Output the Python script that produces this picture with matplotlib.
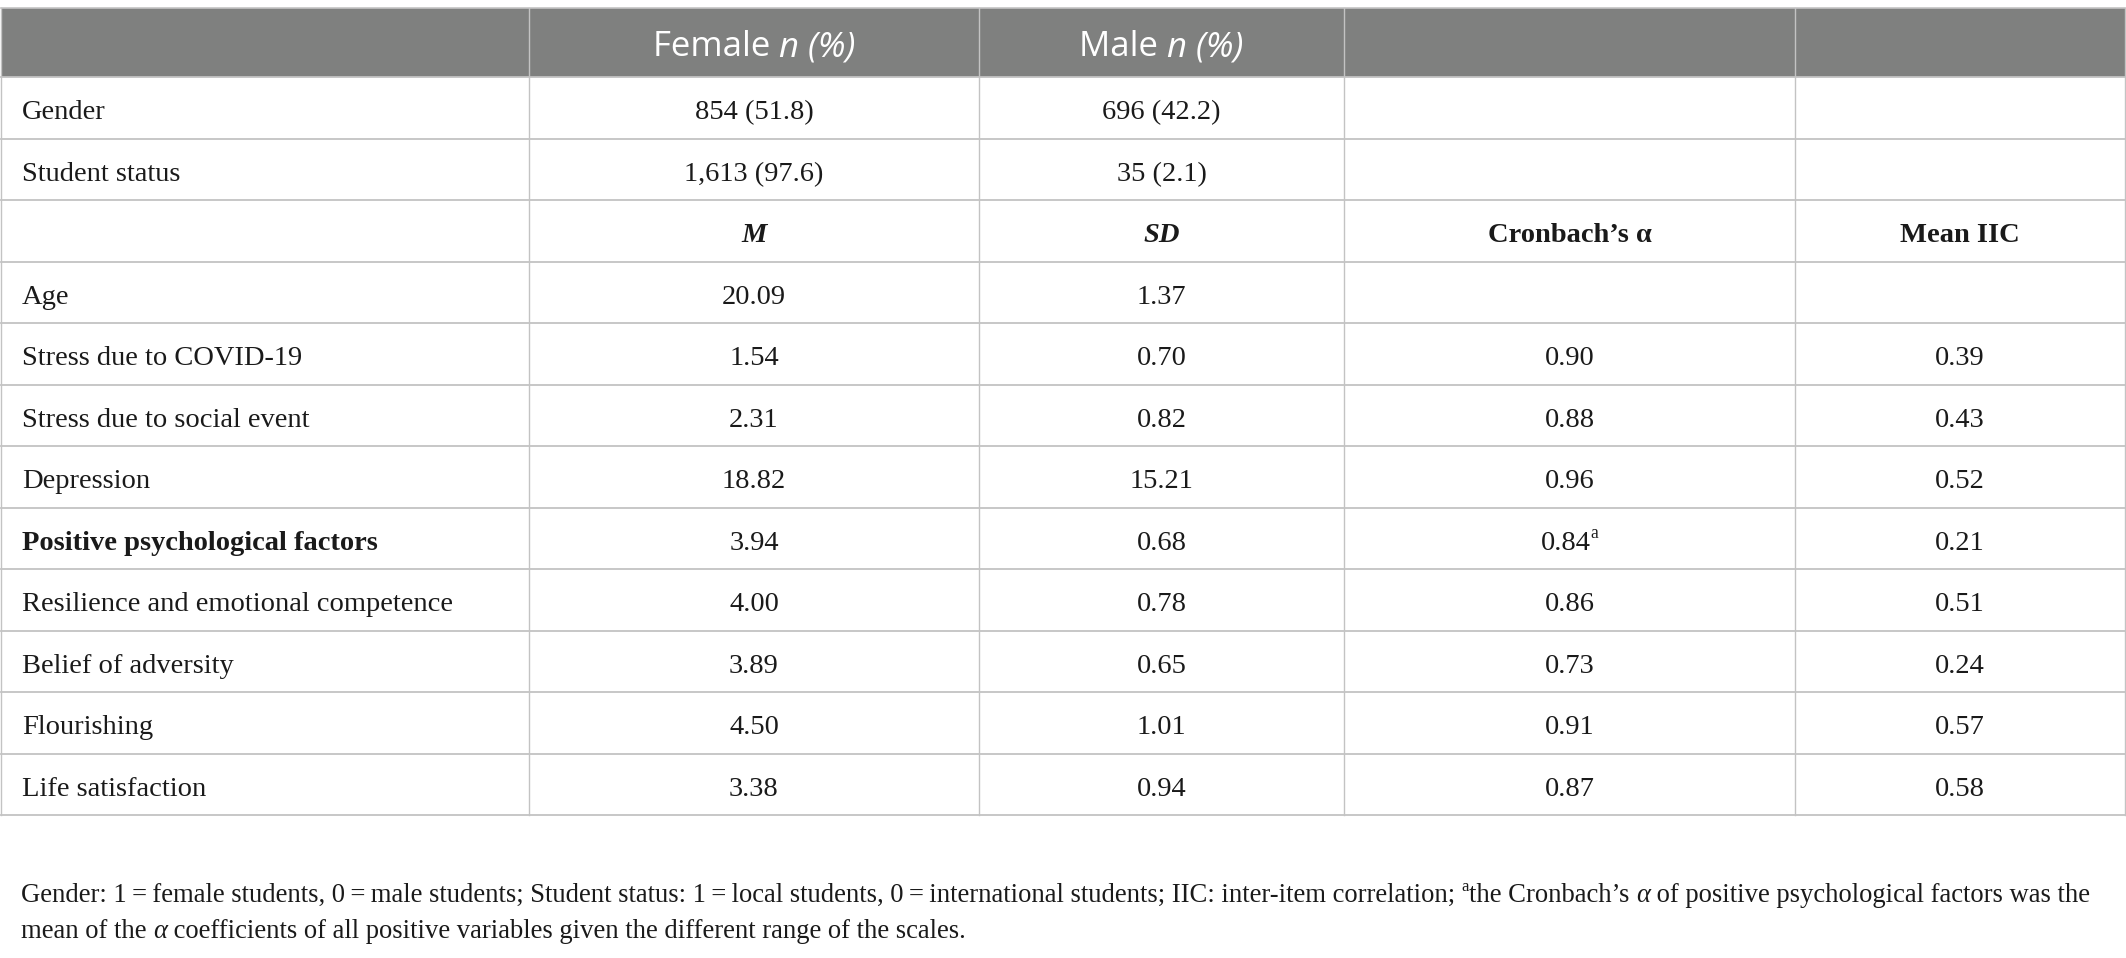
import matplotlib
matplotlib.use("Agg")
import matplotlib.pyplot as plt

# ---- table content -------------------------------------------------------
header_cols = ["Female", "Male"]
count_labels = ["Gender", "Student status"]
female_n = [854, 1613]
female_pct = [51.8, 97.6]
male_n = [696, 35]
male_pct = [42.2, 2.1]

stat_labels = [
    "Age",
    "Stress due to COVID-19",
    "Stress due to social event",
    "Depression",
    "Positive psychological factors",
    "Resilience and emotional competence",
    "Belief of adversity",
    "Flourishing",
    "Life satisfaction",
]
stat_bold = [False, False, False, False, True, False, False, False, False]
means = [20.09, 1.54, 2.31, 18.82, 3.94, 4.00, 3.89, 4.50, 3.38]
sds = [1.37, 0.70, 0.82, 15.21, 0.68, 0.78, 0.65, 1.01, 0.94]
alphas = [None, 0.90, 0.88, 0.96, 0.84, 0.86, 0.73, 0.91, 0.87]
alpha_sup = [None, None, None, None, "a", None, None, None, None]
iics = [None, 0.39, 0.43, 0.52, 0.21, 0.51, 0.24, 0.57, 0.58]

# ---- layout (pixels) -------------------------------------------------------
W, H = 2126, 958
col_x = [1, 529, 979, 1344, 1795, 2125]
head_top, head_bot = 8, 77
row_h = 61.5
n_rows = 2 + 1 + len(stat_labels)

HEAD_BG = "#7f807f"
LINE = "#c3c3c3"
TXT = "#1a1a1a"
SERIF = "Liberation Serif"
SANS = "Open Sans"
FS = 20.5      # table body
NFS = 19.2     # footnote
HFS = 25.0     # header band

fig = plt.figure(figsize=(W / 100, H / 100), dpi=100)
ax = fig.add_axes([0, 0, 1, 1])
ax.set_xlim(0, W)
ax.set_ylim(H, 0)
ax.axis("off")
renderer = fig.canvas.get_renderer()


def runs(x, y, parts, ha="left", size=FS, family=SERIF, color=TXT):
    """Draw text made of styled pieces; parts = (text, weight, style, sup)."""
    objs = []
    for text, weight, style, sup in parts:
        s = size * 0.62 if sup else size
        t = ax.text(0, y - (size * 0.55 if sup else 0), text, fontsize=s, family=family,
                    weight=weight, style=style, color=color, va="baseline", ha="left")
        objs.append(t)
    widths = [o.get_window_extent(renderer).width for o in objs]
    total = sum(widths)
    x0 = x - total / 2 if ha == "center" else x
    for o, w in zip(objs, widths):
        o.set_x(x0)
        x0 += w


def centre(i):
    return (col_x[i] + col_x[i + 1]) / 2


def baseline(r):
    return head_bot + row_h * r + row_h / 2 + 11.5


# header band
ax.add_patch(plt.Rectangle((col_x[0], head_top), col_x[-1] - col_x[0], head_bot - head_top,
                           facecolor=HEAD_BG, edgecolor="none"))
for j, name in enumerate(header_cols):
    runs(centre(j + 1), (head_top + head_bot) / 2 + 13.5,
         [(name + " ", "normal", "normal", False), ("n (%)", "normal", "italic", False)],
         ha="center", size=HFS, family=SANS, color="white")

# grid lines
ax.plot([col_x[0], col_x[-1]], [head_top, head_top], color=LINE, lw=1.2)
for r in range(n_rows + 1):
    y = head_bot + row_h * r
    ax.plot([col_x[0], col_x[-1]], [y, y], color=LINE, lw=1.3)
for x in col_x:
    ax.plot([x, x], [head_top, head_bot + row_h * n_rows], color=LINE, lw=1.0)

# counts
for r, lab in enumerate(count_labels):
    y = baseline(r)
    runs(col_x[0] + 21, y, [(lab, "normal", "normal", False)])
    runs(centre(1), y, [(f"{female_n[r]:,} ({female_pct[r]:.1f})", "normal", "normal", False)],
         ha="center")
    runs(centre(2), y, [(f"{male_n[r]:,} ({male_pct[r]:.1f})", "normal", "normal", False)],
         ha="center")

# sub header
y = baseline(2)
runs(centre(1), y, [("M", "bold", "italic", False)], ha="center")
runs(centre(2), y, [("SD", "bold", "italic", False)], ha="center")
runs(centre(3), y, [("Cronbach\u2019s \u03b1", "bold", "normal", False)], ha="center")
runs(centre(4), y, [("Mean IIC", "bold", "normal", False)], ha="center")

# statistics
for k, lab in enumerate(stat_labels):
    y = baseline(3 + k)
    runs(col_x[0] + 21, y, [(lab, "bold" if stat_bold[k] else "normal", "normal", False)])
    runs(centre(1), y, [(f"{means[k]:.2f}", "normal", "normal", False)], ha="center")
    runs(centre(2), y, [(f"{sds[k]:.2f}", "normal", "normal", False)], ha="center")
    if alphas[k] is not None:
        parts = [(f"{alphas[k]:.2f}", "normal", "normal", False)]
        if alpha_sup[k]:
            parts.append((alpha_sup[k], "normal", "normal", True))
        runs(centre(3), y, parts, ha="center")
    if iics[k] is not None:
        runs(centre(4), y, [(f"{iics[k]:.2f}", "normal", "normal", False)], ha="center")

# footnote
note1 = ("Gender: 1\u2009=\u2009female students, 0\u2009=\u2009male students; Student status: "
         "1\u2009=\u2009local students, 0\u2009=\u2009international students; IIC: inter-item correlation; ")
runs(21, 902, [(note1, "normal", "normal", False), ("a", "normal", "normal", True),
               ("the Cronbach\u2019s ", "normal", "normal", False), ("\u03b1", "normal", "italic", False),
               (" of positive psychological factors was the", "normal", "normal", False)],
     size=NFS)
runs(21, 938, [("mean of the ", "normal", "normal", False), ("\u03b1", "normal", "italic", False),
               (" coefficients of all positive variables given the different range of the scales.",
                "normal", "normal", False)], size=NFS)

fig.savefig("out.png", dpi=100)
